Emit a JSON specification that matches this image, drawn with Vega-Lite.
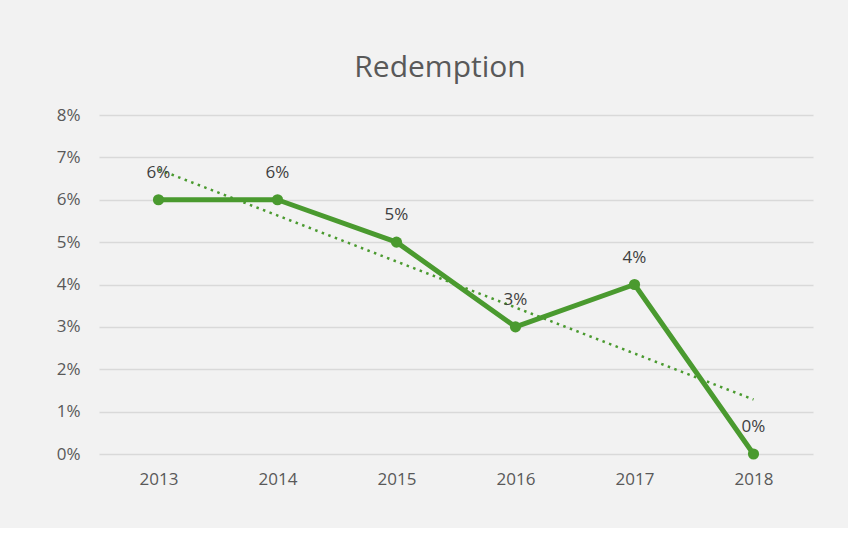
{
  "$schema": "https://vega.github.io/schema/vega-lite/v6.json",
  "width": 714,
  "height": 339,
  "autosize": "none",
  "padding": {"left": 99, "top": 115, "right": 35, "bottom": 74},
  "background": "#f2f2f2",
  "title": {
    "text": "Redemption",
    "font": "Open Sans",
    "fontSize": 30,
    "fontWeight": "normal",
    "color": "#595959",
    "anchor": "middle",
    "baseline": "alphabetic",
    "dx": -16,
    "dy": 39,
    "offset": 38
  },
  "config": {
    "view": {"stroke": null},
    "font": "Open Sans"
  },
  "data": {
    "values": [
      {"year": 2013, "rate": 0.06},
      {"year": 2014, "rate": 0.06},
      {"year": 2015, "rate": 0.05},
      {"year": 2016, "rate": 0.03},
      {"year": 2017, "rate": 0.04},
      {"year": 2018, "rate": 0.0}
    ]
  },
  "encoding": {
    "x": {
      "field": "year",
      "type": "quantitative",
      "scale": {"domain": [2012.5, 2018.5], "nice": false, "zero": false},
      "axis": {
        "title": null,
        "values": [2013, 2014, 2015, 2016, 2017, 2018],
        "format": "d",
        "grid": false,
        "domain": false,
        "ticks": false,
        "labelPadding": 17,
        "labelFontSize": 17,
        "labelColor": "#595959",
        "labelFont": "Open Sans"
      }
    },
    "y": {
      "field": "rate",
      "type": "quantitative",
      "scale": {"domain": [0, 0.08], "nice": false},
      "axis": {
        "title": null,
        "format": ".0%",
        "values": [0, 0.01, 0.02, 0.03, 0.04, 0.05, 0.06, 0.07, 0.08],
        "domain": false,
        "ticks": false,
        "labelPadding": 19,
        "labelFontSize": 17,
        "labelColor": "#595959",
        "labelFont": "Open Sans",
        "gridColor": "#d9d9d9",
        "gridWidth": 1.5
      }
    }
  },
  "layer": [
    {
      "transform": [{"regression": "rate", "on": "year"}],
      "mark": {"type": "line", "color": "#4a9a2f", "strokeWidth": 2.5, "strokeDash": [2.5, 4.5], "strokeCap": "butt"}
    },
    {
      "mark": {"type": "line", "color": "#4a9a2f", "strokeWidth": 5, "strokeJoin": "round"}
    },
    {
      "mark": {"type": "point", "filled": true, "opacity": 1, "color": "#4a9a2f", "size": 125}
    },
    {
      "mark": {"type": "text", "dy": -27, "fontSize": 17, "color": "#404040", "font": "Open Sans"},
      "encoding": {"text": {"field": "rate", "type": "quantitative", "format": ".0%"}}
    }
  ]
}
